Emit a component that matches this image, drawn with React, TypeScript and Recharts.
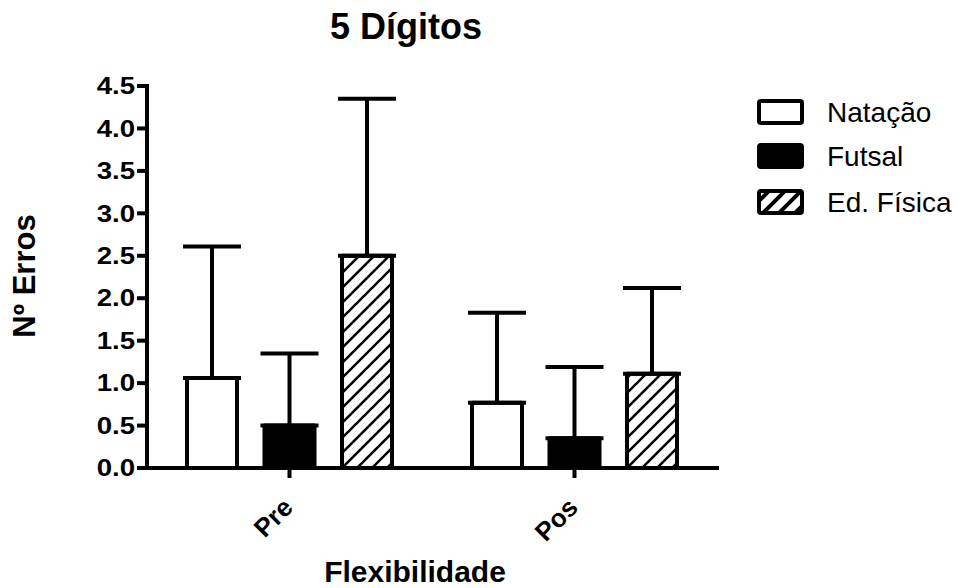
import React from 'react';
import { BarChart, Bar, XAxis, YAxis, ErrorBar } from 'recharts';

const categories = ['Pre', 'Pos'];
const natacao = [1.06, 0.77];
const natacaoErr = [1.55, 1.06];
const futsal = [0.5, 0.35];
const futsalErr = [0.85, 0.84];
const edFisica = [2.5, 1.11];
const edFisicaErr = [1.85, 1.01];
const yTicks = [0, 0.5, 1, 1.5, 2, 2.5, 3, 3.5, 4, 4.5];
const seriesNames = ['Natação', 'Futsal', 'Ed. Física'];

const data = categories.map((c, i) => ({
  cat: c,
  nat: natacao[i],
  natErr: [0, natacaoErr[i]],
  fut: futsal[i],
  futErr: [0, futsalErr[i]],
  ed: edFisica[i],
  edErr: [0, edFisicaErr[i]],
}));

const FONT = "Arial, 'Liberation Sans', Helvetica, sans-serif";

const YTick = (props: any) => {
  const { x, y, payload } = props;
  return (
    <g transform={`translate(${x},${y})`}>
      <text
        x={0}
        y={0}
        dy={8.2}
        textAnchor="end"
        transform="scale(1.2,1)"
        fontSize={23}
        fontWeight="bold"
        fontFamily={FONT}
        fill="#000"
      >
        {Number(payload.value).toFixed(1)}
      </text>
    </g>
  );
};

const XTick = (props: any) => {
  const { x, y, payload } = props;
  return (
    <g transform={`translate(${x + 5},${y + 31})`}>
      <text
        x={0}
        y={0}
        textAnchor="end"
        transform="rotate(-45)"
        fontSize={26}
        fontWeight="bold"
        fontFamily={FONT}
        fill="#000"
      >
        {payload.value}
      </text>
    </g>
  );
};

export default function App() {
  const fills = ['#fff', '#000', 'url(#hatch)'];
  const rowY = [112, 156, 202];
  return (
    <div style={{ position: 'absolute', left: 0, top: 0, width: 974, height: 588, background: '#fff' }}>
      <svg width={0} height={0} style={{ position: 'absolute' }}>
        <defs>
          <pattern id="hatch" patternUnits="userSpaceOnUse" width={15} height={15}>
            <rect width={15} height={15} fill="#fff" />
            <path
              d="M0,15 L15,0 M-3.75,3.75 L3.75,-3.75 M11.25,18.75 L18.75,11.25"
              stroke="#000"
              strokeWidth={2.5}
            />
          </pattern>
          <pattern id="hatchLeg" patternUnits="userSpaceOnUse" width={16} height={16}>
            <rect width={16} height={16} fill="#fff" />
            <path
              d="M0,16 L16,0 M-4,4 L4,-4 M12,20 L20,12"
              stroke="#000"
              strokeWidth={4}
            />
          </pattern>
        </defs>
      </svg>
      <BarChart
        width={974}
        height={588}
        data={data}
        margin={{ top: 86, right: 257, bottom: 0, left: 0 }}
        barGap={27.5}
        barSize={50}
      >
        <XAxis
          dataKey="cat"
          height={120}
          tick={<XTick />}
          tickSize={10}
          tickMargin={0}
          axisLine={{ stroke: '#000', strokeWidth: 4, strokeLinecap: 'square' }}
          tickLine={{ stroke: '#000', strokeWidth: 4 }}
          interval={0}
        />
        <YAxis
          width={147}
          domain={[0, 4.5]}
          ticks={yTicks}
          tick={<YTick />}
          tickSize={10}
          tickMargin={2}
          interval={0}
          axisLine={{ stroke: '#000', strokeWidth: 4, strokeLinecap: 'square' }}
          tickLine={{ stroke: '#000', strokeWidth: 4 }}
        />
        <Bar dataKey="nat" fill="#fff" stroke="#000" strokeWidth={4} strokeLinejoin="round" isAnimationActive={false}>
          <ErrorBar dataKey="natErr" width={29} strokeWidth={4} stroke="#000" direction="y" isAnimationActive={false} />
        </Bar>
        <Bar dataKey="fut" fill="#000" stroke="#000" strokeWidth={4} strokeLinejoin="round" isAnimationActive={false}>
          <ErrorBar dataKey="futErr" width={29} strokeWidth={4} stroke="#000" direction="y" isAnimationActive={false} />
        </Bar>
        <Bar dataKey="ed" fill="url(#hatch)" stroke="#000" strokeWidth={4} strokeLinejoin="round" isAnimationActive={false}>
          <ErrorBar dataKey="edErr" width={29} strokeWidth={4} stroke="#000" direction="y" isAnimationActive={false} />
        </Bar>
      </BarChart>
      <svg
        width={974}
        height={588}
        style={{ position: 'absolute', left: 0, top: 0, pointerEvents: 'none' }}
      >
        <text x={406} y={39} textAnchor="middle" fontSize={36} fontWeight="bold" fontFamily={FONT} fill="#000">
          5 Dígitos
        </text>
        <text x={415} y={582} textAnchor="middle" fontSize={30} fontWeight="bold" fontFamily={FONT} fill="#000">
          Flexibilidade
        </text>
        <text
          transform="translate(35,276) rotate(-90)"
          x={0}
          y={0}
          textAnchor="middle"
          fontSize={31}
          fontWeight="bold"
          fontFamily={FONT}
          fill="#000"
        >
          Nº Erros
        </text>
        {seriesNames.map((name, i) => (
          <g key={name}>
            <rect
              x={759}
              y={rowY[i] - 11}
              width={43}
              height={22}
              rx={2}
              fill={i === 2 ? 'url(#hatchLeg)' : fills[i]}
              stroke="#000"
              strokeWidth={4}
              strokeLinejoin="round"
            />
            <text x={827} y={rowY[i] + 10} fontSize={28} fontFamily={FONT} fill="#000">
              {name}
            </text>
          </g>
        ))}
      </svg>
    </div>
  );
}
